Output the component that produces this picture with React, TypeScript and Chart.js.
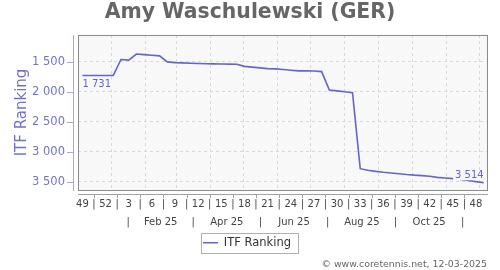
import React, { useEffect, useRef } from 'react';
import { Chart, registerables } from 'chart.js';

Chart.register(...registerables);

const chartTitle = 'Amy Waschulewski (GER)';
const seriesName = 'ITF Ranking';
const footerText = '© www.coretennis.net, 12-03-2025';

// weekly observations, first one on this date, one per week after it
const firstPointDate = '2024-12-06';
const axisStartDate = '2024-12-02';
const axisEndDate = '2025-12-08';

const rankings = [
  1731, 1731, 1731, 1731, 1731,
  1465, 1475, 1375, 1385, 1395,
  1405, 1505, 1517, 1522, 1527,
  1531, 1535, 1538, 1540, 1542,
  1545, 1580, 1593, 1605, 1617,
  1622, 1632, 1643, 1655, 1655,
  1657, 1667, 1972, 1987, 2002,
  2017, 3280, 3305, 3325, 3340,
  3352, 3365, 3378, 3388, 3395,
  3405, 3425, 3435, 3445, 3460,
  3475, 3495, 3514,
];

const weekTickLabels = ['49', '52', '3', '6', '9', '12', '15', '18', '21', '24', '27', '30', '33', '36', '39', '42', '45', '48'];
const monthTickLabels = ['Feb 25', 'Apr 25', 'Jun 25', 'Aug 25', 'Oct 25'];
const monthTickYear = 2025;
const yTickValues = [1500, 2000, 2500, 3000, 3500];
const yAxisMin = 1058;
const yAxisMax = 3635;

const LINE = '#6464d0';
const FONT = 'DejaVu Sans';

const DAY = 86400000;
const ORIGIN = Date.UTC(2025, 0, 1);
const toDay = (iso: string) => (Date.parse(iso + 'T00:00:00Z') - ORIGIN) / DAY;
const fmt = (v: number) => String(Math.round(v)).replace(/\B(?=(\d{3})+(?!\d))/g, ' ');

const firstDay = toDay(firstPointDate);
const points = rankings.map((v, i) => ({ x: firstDay + 7 * i, y: v }));

type T = { value: number; label: string; grid?: boolean };
const weekTicks: T[] = [];
weekTickLabels.forEach((lab, k) => {
  const v = firstDay + 21 * k;
  if (k > 0) weekTicks.push({ value: v - 10.5, label: '|' });
  weekTicks.push({ value: v, label: lab });
});

const monthStarts = Array.from({ length: 12 }, (_, m) => (Date.UTC(monthTickYear, m, 1) - ORIGIN) / DAY);
const monthTicks: T[] = [];
monthStarts.forEach((s, m) => {
  monthTicks.push({ value: s, label: '', grid: true });
  if (m < 11) {
    const c = (s + monthStarts[m + 1]) / 2;
    monthTicks.push({ value: c, label: m % 2 === 1 ? monthTickLabels[(m - 1) / 2] : '|', grid: false });
  }
});

const decor = {
  id: 'decor',
  afterLayout(chart: any) {
    const lg = chart.legend;
    if (lg) {
      lg.left -= 3;
      lg.right -= 3;
    }
  },
  beforeDraw(chart: any) {
    const { ctx, chartArea: a } = chart;
    ctx.save();
    ctx.fillStyle = '#ffffff';
    ctx.fillRect(0, 0, chart.width, chart.height);
    ctx.fillStyle = '#f8f8f8';
    ctx.fillRect(a.left, a.top, a.right - a.left, a.bottom - a.top);
    ctx.restore();
  },
  afterDatasetsDraw(chart: any) {
    const { ctx } = chart;
    const meta = chart.getDatasetMeta(0);
    const first = meta.data[0];
    const last = meta.data[meta.data.length - 1];
    ctx.save();
    ctx.font = `10px ${FONT}`;
    ctx.textBaseline = 'middle';
    const t1 = fmt(rankings[0]);
    const w1 = ctx.measureText(t1).width;
    const y1 = first.y + 9;
    ctx.fillStyle = '#f8f8f8';
    ctx.fillRect(first.x - 1, y1 - 5, w1 + 2, 10);
    ctx.fillStyle = LINE;
    ctx.textAlign = 'left';
    ctx.fillText(t1, first.x, y1);
    const t2 = fmt(rankings[rankings.length - 1]);
    const w2 = ctx.measureText(t2).width;
    const y2 = last.y - 7;
    ctx.fillStyle = '#f8f8f8';
    ctx.fillRect(last.x - w2 - 2, y2 - 5, w2 + 3, 9.5);
    ctx.fillStyle = LINE;
    ctx.textAlign = 'right';
    ctx.fillText(t2, last.x, y2);
    ctx.restore();
  },
  afterDraw(chart: any) {
    const { ctx, chartArea: a } = chart;
    const ys = chart.scales.y;
    const xs = chart.scales.x;
    ctx.save();
    ctx.strokeStyle = '#8a8a8a';
    ctx.lineWidth = 1;
    ctx.strokeRect(a.left + 0.5, a.top + 0.5, a.right - a.left, a.bottom - a.top);
    ctx.strokeStyle = '#a8a8dc';
    ctx.beginPath();
    ctx.moveTo(a.left - 4.5, a.top);
    ctx.lineTo(a.left - 4.5, a.bottom + 1);
    yTickValues.forEach((v) => {
      const py = Math.round(ys.getPixelForValue(v)) + 0.5;
      ctx.moveTo(a.left - 11, py);
      ctx.lineTo(a.left - 4, py);
    });
    ctx.stroke();
    ctx.strokeStyle = '#a0a0a0';
    ctx.beginPath();
    ctx.moveTo(a.left, a.bottom + 4.5);
    ctx.lineTo(a.right + 1, a.bottom + 4.5);
    weekTicks.forEach((t) => {
      if (t.label !== '|') return;
      const px = Math.round(xs.getPixelForValue(t.value)) + 0.5;
      ctx.moveTo(px, a.bottom + 5);
      ctx.lineTo(px, a.bottom + 8);
    });
    ctx.stroke();
    const lg = chart.legend;
    if (lg && lg.legendHitBoxes && lg.legendHitBoxes.length) {
      const h = lg.legendHitBoxes[0];
      ctx.strokeStyle = '#b0b0b0';
      ctx.strokeRect(Math.round(h.left - 2) + 0.5, Math.round(h.top - 4) + 0.5, Math.round(h.width + 9), 20);
    }
    ctx.restore();
  },
};

export default function App() {
  const ref = useRef<HTMLCanvasElement>(null);
  useEffect(() => {
    const canvas = ref.current!;
    Chart.defaults.font.family = FONT;
    const chart = new Chart(canvas, {
      type: 'line',
      data: {
        datasets: [
          {
            label: seriesName,
            data: points,
            borderColor: LINE,
            backgroundColor: LINE,
            borderWidth: 1.6,
            pointRadius: 0,
            tension: 0,
            fill: false,
          },
        ],
      },
      options: {
        responsive: false,
        animation: false,
        devicePixelRatio: 1,
        events: [],
        layout: { padding: { left: 13, right: 13, top: 0, bottom: 0 } },
        plugins: {
          title: {
            display: true,
            text: chartTitle,
            color: '#666666',
            font: { family: FONT, size: 20.4, weight: 'bold' },
            padding: { top: 0, bottom: 10.5 },
          },
          subtitle: {
            display: true,
            text: footerText,
            position: 'bottom',
            align: 'end',
            color: '#666666',
            font: { family: FONT, size: 9.4 },
            padding: { top: 0, bottom: 0.2 },
          },
          legend: {
            display: true,
            position: 'bottom',
            labels: {
              usePointStyle: true,
              pointStyle: 'line',
              pointStyleWidth: 15,
              boxWidth: 15,
              padding: 9,
              color: '#333333',
              font: { family: FONT, size: 11.5 },
            },
          },
          tooltip: { enabled: false },
        },
        scales: {
          x: {
            type: 'linear',
            position: 'bottom',
            weight: 1,
            min: toDay(axisStartDate),
            max: toDay(axisEndDate),
            afterBuildTicks: (s: any) => {
              s.ticks = weekTicks.map((t) => ({ value: t.value }));
            },
            afterFit: (s: any) => {
              s.height = 24;
            },
            ticks: {
              autoSkip: false,
              maxRotation: 0,
              minRotation: 0,
              padding: 8,
              color: '#444444',
              font: { family: FONT, size: 10 },
              callback: (_v: any, i: number) => weekTicks[i].label,
            },
            grid: { display: false, drawTicks: false, tickLength: 0 },
            border: { display: false },
          },
          xm: {
            type: 'linear',
            position: 'bottom',
            weight: 2,
            min: toDay(axisStartDate),
            max: toDay(axisEndDate),
            afterBuildTicks: (s: any) => {
              s.ticks = monthTicks.map((t) => ({ value: t.value }));
            },
            afterFit: (s: any) => {
              s.height = 14;
            },
            ticks: {
              autoSkip: false,
              maxRotation: 0,
              minRotation: 0,
              padding: 2,
              color: '#444444',
              font: { family: FONT, size: 10 },
              callback: (_v: any, i: number) => monthTicks[i].label,
            },
            grid: {
              drawTicks: false,
              lineWidth: 1,
              color: (c: any) => (monthTicks[c.index] && monthTicks[c.index].grid ? '#d8d8d8' : 'rgba(0,0,0,0)'),
            },
            border: { display: false, dash: [3, 3] },
          },
          y: {
            type: 'linear',
            position: 'left',
            reverse: true,
            min: yAxisMin,
            max: yAxisMax,
            afterBuildTicks: (s: any) => {
              s.ticks = yTickValues.map((v) => ({ value: v }));
            },
            afterFit: (s: any) => {
              s.width = 65;
            },
            ticks: {
              padding: 13,
              color: '#7272d2',
              font: { family: FONT, size: 11.5 },
              callback: (v: any) => fmt(Number(v)),
            },
            grid: { drawTicks: false, color: '#d8d8d8', lineWidth: 1 },
            border: { display: false, dash: [3, 3] },
            title: {
              display: true,
              text: seriesName,
              color: '#7070d4',
              font: { family: FONT, size: 15 },
              padding: { top: 0, bottom: 0 },
            },
          },
        },
      },
      plugins: [decor],
    } as any);
    return () => chart.destroy();
  }, []);
  return (
    <div style={{ position: 'absolute', left: 0, top: 0, width: 500, height: 270, background: '#fff' }}>
      <canvas ref={ref} width={500} height={270} style={{ display: 'block', width: 500, height: 270 }} />
    </div>
  );
}
